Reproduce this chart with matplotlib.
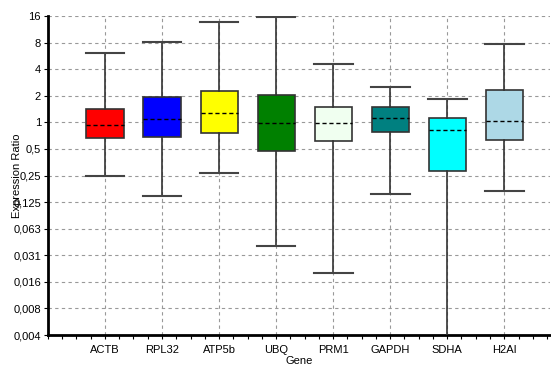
import numpy as np
import matplotlib
matplotlib.use('Agg')
from matplotlib import pyplot as plt
from matplotlib.ticker import FixedLocator, MultipleLocator

plt.rcParams['font.family'] = ['Liberation Sans', 'DejaVu Sans']
plt.rcParams['font.size'] = 8

genes = ['ACTB', 'RPL32', 'ATP5b', 'UBQ', 'PRM1', 'GAPDH', 'SDHA', 'H2AI']
colors = ['#FF0000', '#0000FF', '#FFFF00', '#008000',
          '#F0FFF0', '#008080', '#00FFFF', '#ADD8E6']

whis_hi = [6.06, 8.1, 13.8, 15.8, 4.54, 2.51, 1.83, 7.7]
q3 = [1.41, 1.95, 2.28, 2.04, 1.51, 1.48, 1.11, 2.34]
med = [0.93, 1.09, 1.27, 0.99, 0.98, 1.12, 0.83, 1.04]
q1 = [0.66, 0.68, 0.75, 0.475, 0.61, 0.77, 0.284, 0.63]
whis_lo = [0.245, 0.147, 0.27, 0.040, 0.0198, 0.156, 0.002, 0.168]

ytick_vals = [2.0 ** k for k in range(-8, 5)]
ytick_labels = ['0,004', '0,008', '0,016', '0,031', '0,063', '0,125', '0,25',
                '0,5', '1', '2', '4', '8', '16']

stats = []
for i in range(len(genes)):
    stats.append(dict(label=genes[i], whislo=whis_lo[i], q1=q1[i], med=med[i],
                      q3=q3[i], whishi=whis_hi[i], fliers=[]))

fig = plt.figure(figsize=(5.51, 3.65), dpi=100)
ax = fig.add_axes([0.087, 0.082, 0.911, 0.874])

bp = ax.bxp(stats, positions=np.arange(1, len(genes) + 1), widths=0.65,
            patch_artist=True, showfliers=False,
            boxprops=dict(edgecolor='#333333', linewidth=1.2),
            whiskerprops=dict(color='#333333', linewidth=1.2),
            capprops=dict(color='#444444', linewidth=1.5),
            medianprops=dict(color='black', linewidth=1.0, linestyle=(0, (3, 2))),
            capwidths=0.68, zorder=3)
for patch, c in zip(bp['boxes'], colors):
    patch.set_facecolor(c)

ax.set_yscale('log', base=2)
ax.set_ylim(2.0 ** -8, 16)
ax.set_xlim(0, 8.8)
ax.yaxis.set_major_locator(FixedLocator(ytick_vals))
ax.set_yticklabels(ytick_labels)
ax.yaxis.set_minor_locator(FixedLocator([]))
ax.xaxis.set_minor_locator(MultipleLocator(0.25))

ax.grid(True, which='major', color='#999999', linestyle=(0, (3, 3)), linewidth=0.8)
ax.set_axisbelow(True)

for s in ['top', 'right']:
    ax.spines[s].set_visible(False)
for s in ['left', 'bottom']:
    ax.spines[s].set_linewidth(2)

ax.tick_params(axis='x', which='both', length=3, width=0.8, pad=4)
ax.tick_params(axis='y', length=3, width=0.8, pad=2)

ax.set_xlabel('Gene', labelpad=1)
ax.set_ylabel('Expression Ratio')
ax.yaxis.set_label_coords(-0.052, 0.5)

plt.savefig('out.png', dpi=100)
